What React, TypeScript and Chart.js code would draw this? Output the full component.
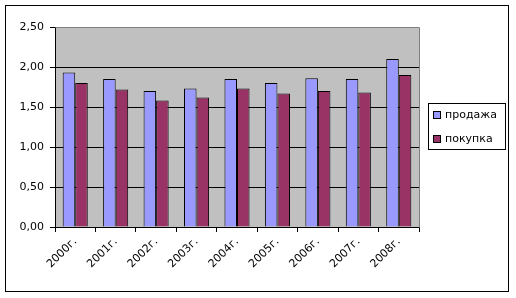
import React, { useEffect, useRef } from "react";
import { Chart, registerables } from "chart.js";

Chart.register(...registerables);

const categories = ["2000г.", "2001г.", "2002г.", "2003г.", "2004г.", "2005г.", "2006г.", "2007г.", "2008г."];
const sales = [1.93, 1.85, 1.70, 1.73, 1.85, 1.80, 1.86, 1.85, 2.10];
const purchases = [1.80, 1.72, 1.58, 1.62, 1.73, 1.67, 1.70, 1.68, 1.90];
const seriesNames = ["продажа", "покупка"];
const seriesColors = ["#9999FF", "#993366"];

const FONT = "'DejaVu Sans', Arial, sans-serif";

const framePlugin = {
  id: "frame",
  beforeDraw(chart: any) {
    const { ctx, chartArea } = chart;
    ctx.save();
    ctx.fillStyle = "#FFFFFF";
    ctx.fillRect(0, 0, chart.width, chart.height);
    ctx.fillStyle = "#C0C0C0";
    ctx.fillRect(chartArea.left, chartArea.top, chartArea.right - chartArea.left, chartArea.bottom - chartArea.top);
    ctx.restore();
  },
  afterDraw(chart: any) {
    const { ctx, chartArea } = chart;
    ctx.save();
    ctx.lineWidth = 1;
    ctx.strokeStyle = "#808080";
    ctx.beginPath();
    ctx.moveTo(Math.round(chartArea.left) + 0.5, Math.round(chartArea.top) + 0.5);
    ctx.lineTo(Math.round(chartArea.right) + 0.5, Math.round(chartArea.top) + 0.5);
    ctx.lineTo(Math.round(chartArea.right) + 0.5, Math.round(chartArea.bottom) + 0.5);
    ctx.stroke();
    // outer border
    ctx.strokeStyle = "#000000";
    ctx.strokeRect(5.5, 5.5, 503, 286);
    // legend
    const lx = 428.5, ly = 103.5, lw = 77, lh = 46;
    ctx.strokeRect(lx, ly, lw, lh);
    ctx.font = "11px " + FONT;
    ctx.textBaseline = "middle";
    ctx.textAlign = "left";
    seriesNames.forEach((name, i) => {
      const cy = 115 + i * 24;
      ctx.fillStyle = seriesColors[i];
      ctx.fillRect(433, cy - 3, 7, 7);
      ctx.strokeStyle = "#000000";
      ctx.strokeRect(433.5, cy - 3.5, 7, 7);
      ctx.fillStyle = "#000000";
      ctx.fillText(name, 445, cy);
    });
    ctx.restore();
  },
};

export default function App() {
  const ref = useRef<HTMLCanvasElement>(null);
  useEffect(() => {
    if (!ref.current) return;
    const chart = new Chart(ref.current, {
      type: "bar",
      data: {
        labels: categories,
        datasets: [
          {
            label: seriesNames[0],
            data: sales,
            backgroundColor: seriesColors[0],
            borderColor: "#000000",
            borderWidth: 1,
            barPercentage: 1,
            categoryPercentage: 0.62,
          },
          {
            label: seriesNames[1],
            data: purchases,
            backgroundColor: seriesColors[1],
            borderColor: "#000000",
            borderWidth: 1,
            barPercentage: 1,
            categoryPercentage: 0.62,
          },
        ],
      },
      options: {
        responsive: false,
        animation: false,
        events: [],
        layout: { padding: { left: 0, top: 27, right: 97, bottom: 0 } },
        plugins: { legend: { display: false }, tooltip: { enabled: false } },
        scales: {
          x: {
            offset: true,
            grid: {
              offset: true,
              drawOnChartArea: false,
              drawTicks: true,
              tickLength: 5,
              tickColor: "#000000",
            },
            border: { display: true, color: "#000000" },
            ticks: {
              color: "#000000",
              font: { family: FONT, size: 11 },
              maxRotation: 45,
              minRotation: 45,
              padding: 3,
            },
            afterFit(scale: any) {
              scale.height = 71;
            },
          },
          y: {
            min: 0,
            max: 2.5,
            grid: {
              color: (c: any) => (c.tick && c.tick.value === 2.5 ? "#808080" : "#000000"),
              tickColor: "#000000",
              tickLength: 5,
            },
            border: { display: true, color: "#000000" },
            ticks: {
              stepSize: 0.5,
              color: "#000000",
              font: { family: FONT, size: 11 },
              padding: 6,
              callback: (v: any) => Number(v).toFixed(2).replace(".", ","),
            },
            afterFit(scale: any) {
              scale.width = 55;
            },
          },
        },
      },
      plugins: [framePlugin],
    });
    return () => chart.destroy();
  }, []);
  return (
    <div style={{ position: "fixed", left: 0, top: 0, width: 516, height: 298 }}>
      <canvas ref={ref} width={516} height={298} style={{ display: "block" }} />
    </div>
  );
}
